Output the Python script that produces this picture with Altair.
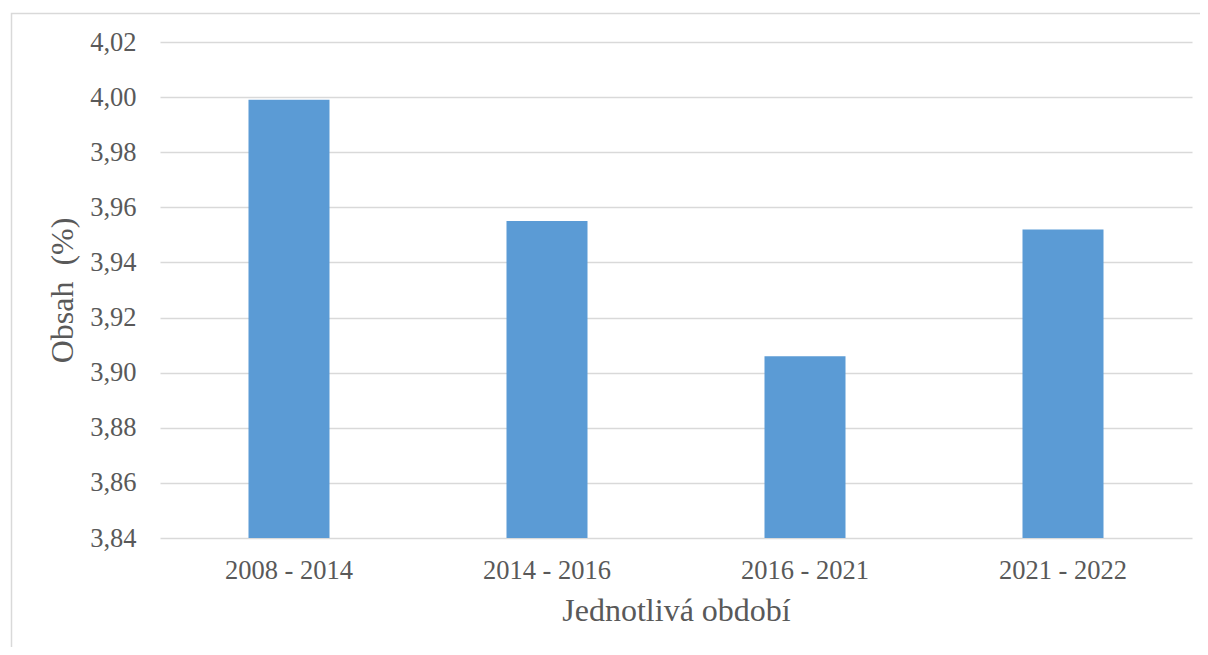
import altair as alt
import pandas as pd

periods = ["2008 - 2014", "2014 - 2016", "2016 - 2021", "2021 - 2022"]
values = [3.999, 3.955, 3.906, 3.952]
y_ticks = [3.84, 3.86, 3.88, 3.90, 3.92, 3.94, 3.96, 3.98, 4.00, 4.02]

df = pd.DataFrame({"period": periods, "value": values})

FONT = "Liberation Serif"
TXT = "#595959"
GRID = "#d9d9d9"

x_enc = alt.X(
    "period:N",
    sort=periods,
    title="Jednotlivá období",
    scale=alt.Scale(paddingInner=0.686, paddingOuter=0.343),
    axis=alt.Axis(
        labelAngle=0, domain=False, ticks=False, labelPadding=19,
        labelFontSize=26.5, titleFontSize=32, titlePadding=12,
        labelColor=TXT, titleColor=TXT, labelFont=FONT, titleFont=FONT,
        titleFontWeight="normal",
    ),
)
y_enc = alt.Y(
    "value:Q",
    title="Obsah\u00a0\u00a0(%)",
    scale=alt.Scale(domain=[3.84, 4.02], zero=False, nice=False),
    axis=alt.Axis(
        values=y_ticks, domain=False, ticks=False, labelPadding=24,
        labelExpr="replace(format(datum.value, '.2f'), '.', ',')",
        labelFontSize=26.5, titleFontSize=32, titlePadding=10,
        labelColor=TXT, titleColor=TXT, labelFont=FONT, titleFont=FONT,
        titleFontWeight="normal", gridColor=GRID, gridWidth=1.5,
    ),
)

bars = alt.Chart(df).mark_bar(color="#5b9bd5").encode(
    x=x_enc, y=y_enc, y2=alt.datum(3.84)
)

frame = alt.Chart(alt.Data(values=[{"a": 1}])).mark_rect(
    fill=None, stroke=GRID, strokeWidth=1.5
).encode(
    x=alt.value(-148.5), x2=alt.value(1100),
    y=alt.value(-28.5), y2=alt.value(700),
)

chart = alt.layer(frame, bars).properties(
    width=1032, height=496,
    padding={"left": 152, "top": 34, "right": 8, "bottom": 109},
    autosize=alt.AutoSizeParams(type="none"),
).configure_view(stroke=None).configure_axis(grid=True).configure_axisX(grid=False)

chart.save("out.html", embed_options={"renderer": "svg", "actions": False})
